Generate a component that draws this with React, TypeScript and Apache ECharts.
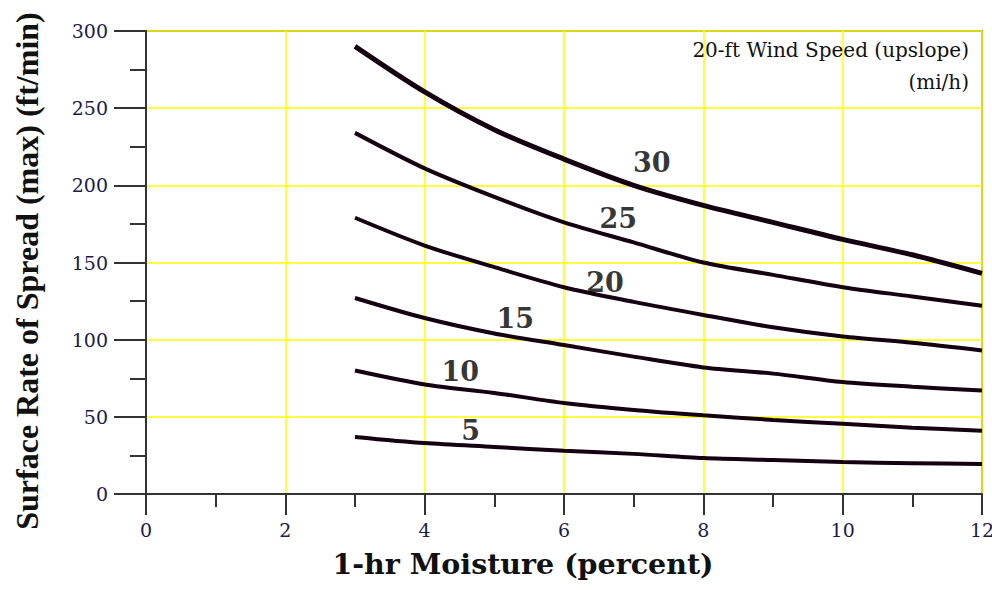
import React, { useEffect, useRef } from "react";
import * as echarts from "echarts";

const moisture = [3, 4, 5, 6, 7, 8, 9, 10, 11, 12];
const wind30 = [290, 260.5, 236, 217, 200, 187, 176, 165, 155, 143];
const wind25 = [234, 211, 192.5, 176, 163, 150, 142, 134, 128, 122];
const wind20 = [179, 161, 147, 134, 124.5, 116, 108, 102, 98, 93];
const wind15 = [127, 114, 104, 96.5, 89, 82, 78, 72.5, 69.5, 67];
const wind10 = [80, 71, 65.5, 59, 54.5, 51, 48, 45.5, 43, 41];
const wind5 = [37, 33, 30.5, 28, 26, 23.3, 22, 20.7, 20, 19.4];
const windSeries = [
  { name: "30", values: wind30 },
  { name: "25", values: wind25 },
  { name: "20", values: wind20 },
  { name: "15", values: wind15 },
  { name: "10", values: wind10 },
  { name: "5", values: wind5 },
];
const curveLabelText = ["30", "25", "20", "15", "10", "5"];
const curveLabelX = [7.26, 6.78, 6.59, 5.3, 4.51, 4.66];
const curveLabelY = [214.5, 178.8, 137, 114, 79.5, 41];

const TIMES = '"Liberation Serif", "DejaVu Serif", serif';
const WIDE = '"DejaVu Serif", "Liberation Serif", serif';

export default function App() {
  const ref = useRef<HTMLDivElement>(null);
  useEffect(() => {
    if (!ref.current) return;
    const chart = echarts.init(ref.current, undefined, { renderer: "svg" });
    const lineSeries = windSeries.map((s) => ({
      type: "line",
      name: s.name,
      data: moisture.map((x, i) => [x, s.values[i]]),
      smooth: 0.3,
      symbol: "none",
      lineStyle: { color: "#140010", width: s.name === "30" ? 5 : 4 },
      z: 3,
    }));
    chart.setOption({
      animation: false,
      backgroundColor: "#ffffff",
      grid: {
        left: 146,
        right: 10,
        top: 31,
        bottom: 96,
        containLabel: false,
        outerBoundsMode: "none",
        show: true,
        borderColor: "#333333",
        borderWidth: 1.5,
      },
      xAxis: {
        type: "value",
        min: 0,
        max: 12,
        interval: 2,
        axisLine: { show: true, onZero: false, lineStyle: { color: "#333333", width: 2 } },
        axisTick: { show: true, inside: false, length: 21, lineStyle: { color: "#333333", width: 2 } },
        minorTick: { show: true, splitNumber: 2, length: 13, lineStyle: { color: "#333333", width: 2 } },
        axisLabel: { margin: 26, fontFamily: WIDE, fontSize: 19, color: "#1c1c4a" },
        splitLine: { show: true, lineStyle: { color: "#ffff00", width: 1.5 } },
      },
      yAxis: {
        type: "value",
        min: 0,
        max: 300,
        interval: 50,
        axisLine: { show: true, lineStyle: { color: "#333333", width: 2 } },
        axisTick: { show: true, inside: false, length: 32, lineStyle: { color: "#333333", width: 2 } },
        minorTick: { show: true, splitNumber: 2, length: 16, lineStyle: { color: "#333333", width: 2 } },
        axisLabel: { margin: 38, fontFamily: WIDE, fontSize: 19, color: "#1c1c4a" },
        splitLine: { show: true, lineStyle: { color: "#ffff00", width: 1.5 } },
      },
      series: [
        ...lineSeries,
        {
          type: "scatter",
          name: "labels",
          symbolSize: 1,
          itemStyle: { color: "rgba(0,0,0,0)" },
          data: curveLabelText.map((t, i) => ({ name: t, value: [curveLabelX[i], curveLabelY[i]] })),
          label: {
            show: true,
            position: "inside",
            formatter: (p: any) => p.name,
            fontFamily: WIDE,
            fontWeight: "bold",
            fontSize: 27,
            color: "#000000",
            textBorderWidth: 0,
            textBorderColor: "transparent",
            align: "center",
            verticalAlign: "middle",
          },
          z: 5,
        },
      ],
      graphic: [
        {
          type: "text",
          x: 27,
          y: 271,
          rotation: Math.PI / 2,
          style: {
            text: "Surface Rate of Spread (max) (ft/min)",
            textAlign: "center",
            textVerticalAlign: "middle",
            font: `bold 32px ${TIMES}`,
            fill: "#111111",
          },
          z: 10,
        },
        {
          type: "text",
          x: 523,
          y: 564,
          style: {
            text: "1-hr Moisture (percent)",
            textAlign: "center",
            textVerticalAlign: "middle",
            font: `bold 28.5px ${WIDE}`,
            fill: "#111111",
          },
          z: 10,
        },
        {
          type: "text",
          x: 969,
          y: 50,
          style: {
            text: "20-ft Wind Speed (upslope)",
            textAlign: "right",
            textVerticalAlign: "middle",
            font: `20px ${WIDE}`,
            fill: "#111111",
          },
          z: 10,
        },
        {
          type: "text",
          x: 969,
          y: 82,
          style: {
            text: "(mi/h)",
            textAlign: "right",
            textVerticalAlign: "middle",
            font: `20px ${WIDE}`,
            fill: "#111111",
          },
          z: 10,
        },
      ],
    });
    return () => chart.dispose();
  }, []);
  return (
    <div
      ref={ref}
      style={{ position: "absolute", left: 0, top: 0, width: 992, height: 590 }}
    />
  );
}
